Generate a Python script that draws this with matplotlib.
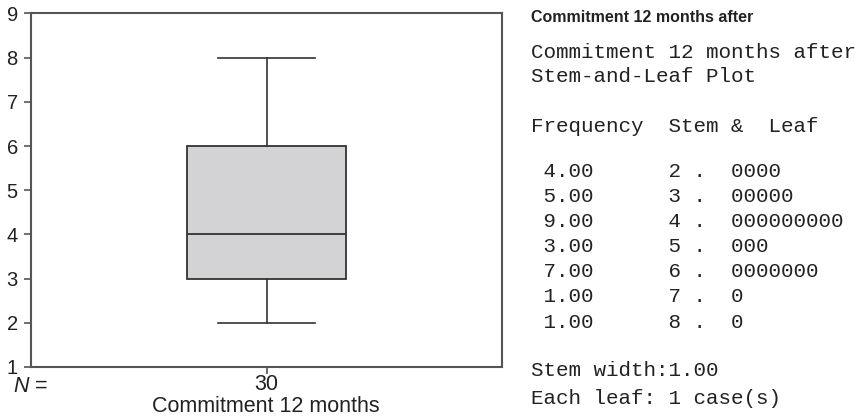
import numpy as np
import matplotlib
matplotlib.use("Agg")
import matplotlib.pyplot as plt

# Stem-and-leaf counts for "Commitment 12 months after"
stems = [2, 3, 4, 5, 6, 7, 8]
frequencies = [4, 5, 9, 3, 7, 1, 1]
variable_label = "Commitment 12 months"
title = "Commitment 12 months after"

values = np.repeat(stems, frequencies)
n_cases = len(values)

W, H = 864, 418
fig = plt.figure(figsize=(W / 100, H / 100), dpi=100)
ax = fig.add_axes([31 / W, 1 - 367 / H, 471 / W, (367 - 13.5) / H])

text_color = "#222222"
spine_color = "#555555"
box_edge = "#333333"
sans = "Liberation Sans"
mono = "Liberation Mono"

ax.boxplot(values, positions=[1], widths=0.675, capwidths=0.412, whis=1.5,
           patch_artist=True, showfliers=True,
           boxprops=dict(facecolor="#d3d3d5", edgecolor=box_edge, linewidth=1.3),
           medianprops=dict(color=box_edge, linewidth=1.3),
           whiskerprops=dict(color=box_edge, linewidth=1.2),
           capprops=dict(color=box_edge, linewidth=1.2))

ax.set_xlim(0, 2)
ax.set_ylim(1, 9)
ax.set_yticks(range(1, 10))
ax.set_xticks([1])
ax.set_xticklabels([str(n_cases)])
for s in ax.spines.values():
    s.set_color(spine_color)
    s.set_linewidth(1.5)
ax.tick_params(axis="both", direction="out", length=5, width=1.2, color=spine_color,
               labelcolor=text_color)
ax.tick_params(axis="y", labelsize=14.5, pad=4.5)
ax.tick_params(axis="x", labelsize=15.5, pad=-0.2)
for lab in ax.get_yticklabels() + ax.get_xticklabels():
    lab.set_fontfamily(sans)

fig.text(13 / W, 1 - 386 / H, "N", fontsize=15.5, style="italic", color=text_color,
         family=sans, va="center", ha="left")
fig.text(35 / W, 1 - 386 / H, "=", fontsize=15.5, color=text_color,
         family=sans, va="center", ha="left")
fig.text(266 / W, 1 - 406 / H, variable_label, fontsize=15.5, color=text_color,
         family=sans, va="center", ha="center")

# Stem-and-leaf listing, drawn as fixed-width text
x0 = 531 / W
fig.text(x0, 1 - 18 / H, title, fontsize=11.5, fontweight="bold", color=text_color,
         family=sans, va="center", ha="left")

header = [title, "Stem-and-Leaf Plot", "Frequency  Stem &  Leaf"]
header_y = [53, 77, 127]
rows = [f" {fr:4.2f}      {st} .  " + "0" * fr for st, fr in zip(stems, frequencies)]
rows_y = [171 + 25.2 * i for i in range(len(rows))]
footer = ["Stem width:1.00", "Each leaf: 1 case(s)"]
footer_y = [371, 398]

for line, y in zip(header + rows + footer, header_y + rows_y + footer_y):
    fig.text(x0, 1 - y / H, line, fontsize=15,
             family=mono, color=text_color, va="center", ha="left")

fig.savefig("out.png", dpi=100)
